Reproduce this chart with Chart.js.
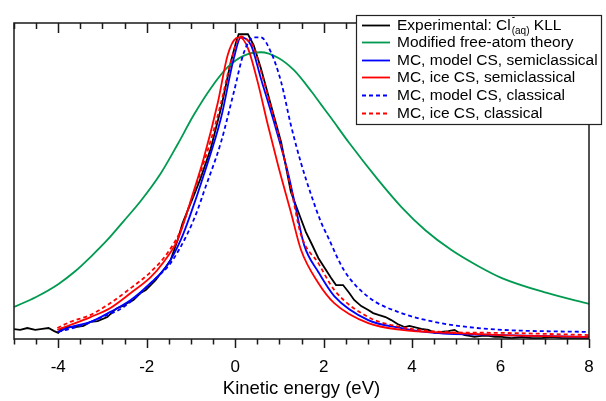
<!DOCTYPE html>
<html><head><meta charset="utf-8">
<script src="https://cdn.jsdelivr.net/npm/chart.js@4.4.1/dist/chart.umd.min.js"></script>
<style>html,body{margin:0;padding:0;background:#fff}#wrap{width:606px;height:401px}</style>
</head><body><div id="wrap"><canvas id="c" width="606" height="401"></canvas></div>
<script>
// Experimental Cl-(aq) KLL
const expX=[-5.02,-4.86,-4.70,-4.52,-4.36,-4.22,-4.09,-4.00,-3.91,-3.79,
 -3.61,-3.43,-3.27,-3.11,-2.89,-2.77,-2.66,-2.55,-2.43,-2.30,
 -2.14,-2.02,-1.91,-1.80,-1.68,-1.57,-1.46,-1.30,-1.19,-1.07,
 -0.94,-0.78,-0.55,-0.32,-0.10,0.02,0.08,0.29,0.42,0.58,
 0.81,1.04,1.26,1.49,1.60,1.72,1.88,2.01,2.17,2.28,
 2.44,2.58,2.69,2.85,3.01,3.12,3.24,3.40,3.53,3.67,
 3.83,3.94,4.05,4.21,4.37,4.51,4.66,4.82,4.96,5.07,
 5.19,5.30,5.41,5.57,5.73,5.87,6.03,6.25,6.48,6.71,
 6.93,7.16,7.39,7.61,7.84,8.00];
const expY=[.033,.030,.036,.030,.033,.036,.026,.020,.036,.039,
 .039,.043,.056,.059,.072,.089,.102,.108,.118,.128,
 .151,.161,.177,.193,.216,.236,.259,.325,.380,.423,
 .469,.528,.626,.757,.908,.974,1.000,1.000,.964,.889,
 .767,.646,.482,.393,.351,.315,.266,.236,.200,.177,
 .177,.151,.128,.108,.095,.085,.079,.072,.062,.049,
 .039,.043,.039,.033,.030,.020,.023,.026,.030,.020,
 .013,.010,.007,.010,.010,.007,.007,.003,.007,.003,
 .003,.007,.003,.003,.003,.003];
// Modified free-atom theory
const freeX=[-5.00,-4.50,-4.00,-3.61,-3.27,-2.89,-2.52,-2.14,-1.68,-1.30,-0.94,-0.55,-0.17,0.20,0.58,0.97,1.33,1.72,1.94,2.17,2.58,3.20,3.76,4.30,4.89,5.50,6.03,7.05,8.00];
const freeY=[.105,.138,.180,.223,.269,.325,.387,.452,.544,.639,.734,.823,.892,.930,.941,.923,.882,.813,.770,.725,.643,.528,.433,.357,.292,.239,.200,.151,.115];
// MC, model CS, semiclassical
const msX=[-4.02,-3.73,-3.27,-2.82,-2.36,-1.91,-1.53,-1.23,-1.00,-0.71,-0.32,-0.03,0.13,0.36,0.58,0.88,1.19,1.38,1.56,1.88,2.24,3.01,3.76,4.51,6.03,8.00];
const msY=[.023,.039,.056,.089,.128,.184,.243,.325,.413,.538,.725,.921,.990,.964,.856,.711,.548,.423,.308,.220,.141,.062,.036,.020,.013,.007];
// MC, ice CS, semiclassical
const isX=[-4.02,-3.73,-3.27,-2.82,-2.36,-1.91,-1.62,-1.30,-1.12,-1.00,-0.71,-0.39,-0.17,0.02,0.11,0.29,0.51,0.74,0.97,1.26,1.49,1.88,2.24,3.01,3.76,4.89,6.03,8.00];
const isY=[.030,.046,.072,.102,.151,.203,.252,.325,.400,.456,.593,.777,.931,.987,.990,.954,.843,.702,.570,.416,.292,.184,.118,.052,.030,.020,.013,.007];
// MC, model CS, classical
const mcX=[-4.00,-3.50,-3.05,-2.52,-1.84,-1.46,-1.07,-0.85,-0.71,-0.32,-0.03,0.20,0.42,0.58,0.81,1.04,1.26,1.49,1.72,1.94,2.10,2.46,3.01,3.76,4.51,5.28,6.03,8.00];
const mcY=[.023,.043,.069,.105,.193,.249,.348,.423,.482,.646,.810,.941,.990,.990,.941,.843,.702,.577,.472,.384,.334,.226,.138,.085,.056,.039,.030,.023];
// MC, ice CS, classical
const icX=[-4.02,-3.73,-3.27,-2.82,-2.36,-1.91,-1.53,-1.23,-1.07,-0.78,-0.55,-0.32,-0.10,0.13,0.29,0.42,0.58,0.81,1.04,1.26,1.49,1.88,2.24,3.01,3.76,4.73,6.03,8.00];
const icY=[.036,.056,.079,.118,.167,.220,.282,.357,.423,.548,.652,.774,.908,.993,.980,.957,.882,.761,.636,.495,.341,.249,.161,.072,.039,.023,.020,.013];

const majorTicks=[-4,-2,0,2,4,6,8];
const minorTicks=[-5,-4.5,-3.5,-3,-2.5,-1.5,-1,-0.5,0.5,1,1.5,2.5,3,3.5,4.5,5,5.5,6.5,7,7.5];
const labels=['Experimental: Cl⁻(aq) KLL','Modified free-atom theory','MC, model CS, semiclassical','MC, ice CS, semiclassical','MC, model CS, classical','MC, ice CS, classical'];

const FONT='"Liberation Sans", Arial, Helvetica, sans-serif';
const pts=(xs,ys)=>xs.map((x,i)=>({x,y:ys[i]}));
const mk=(i,xs,ys,color,dash)=>({label:labels[i],data:pts(xs,ys),borderColor:color,borderWidth:1.8,borderDash:dash||[],pointRadius:0,fill:false,cubicInterpolationMode:'monotone'});

const datasets=[
 mk(5,icX,icY,'#ff0000',[4,3]),
 mk(4,mcX,mcY,'#0000ff',[4,3]),
 mk(3,isX,isY,'#ff0000'),
 mk(2,msX,msY,'#0000ff'),
 mk(1,freeX,freeY,'#009a50'),
 Object.assign(mk(0,expX,expY,'#000000'),{cubicInterpolationMode:'default',tension:0})
];
const legendOrder=[5,4,3,2,1,0];

const framePlugin={id:'frame',afterDraw(chart){
 const {ctx,chartArea:a,scales:{x}}=chart;
 ctx.save();
 ctx.strokeStyle='#1a1a1a';ctx.lineWidth=1.5;ctx.lineCap='butt';
 ctx.beginPath();ctx.rect(a.left,a.top,a.right-a.left,a.bottom-a.top);ctx.stroke();
 ctx.beginPath();
 for(const v of majorTicks){const p=Math.round(x.getPixelForValue(v))+0.5;ctx.moveTo(p,a.bottom);ctx.lineTo(p,a.bottom+9);ctx.moveTo(p,a.top);ctx.lineTo(p,a.top+10);}
 for(const v of minorTicks){const p=Math.round(x.getPixelForValue(v))+0.5;ctx.moveTo(p,a.bottom);ctx.lineTo(p,a.bottom+5.5);ctx.moveTo(p,a.top);ctx.lineTo(p,a.top+6);}
 ctx.stroke();
 // legend box
 const bx=356,by=15,bw=245,bh=109;
 ctx.fillStyle='#fff';ctx.fillRect(bx,by,bw,bh);
 ctx.strokeStyle='#222';ctx.lineWidth=1.2;ctx.strokeRect(bx+0.5,by+0.5,bw,bh);
 ctx.textBaseline='middle';ctx.textAlign='left';
 legendOrder.forEach((di,row)=>{
  const ds=chart.data.datasets[di];
  const yy=Math.round(24.5+row*17.6)+0.5;
  ctx.strokeStyle=ds.borderColor;ctx.lineWidth=1.8;ctx.setLineDash(ds.borderDash);
  ctx.beginPath();ctx.moveTo(362,yy);ctx.lineTo(390,yy);ctx.stroke();ctx.setLineDash([]);
  ctx.fillStyle='#000';ctx.font='15.5px '+FONT;
  if(row===0){
   const t1='Experimental: Cl';ctx.fillText(t1,397,yy);
   let w=ctx.measureText(t1).width+397+1;
   ctx.font='10px '+FONT;ctx.fillText('-',w,yy-8);
   ctx.fillText('(aq)',w,yy+6);
   const w2=ctx.measureText('(aq)').width;
   ctx.font='15.5px '+FONT;ctx.fillText(' KLL',w+w2,yy);
  } else ctx.fillText(ds.label,397,yy);
 });
 ctx.restore();
}};

new Chart(document.getElementById('c'),{
 type:'line',
 data:{datasets},
 options:{
  responsive:false,animation:false,devicePixelRatio:1,
  layout:{padding:{left:14,right:17,top:23,bottom:0.9}},
  plugins:{legend:{display:false},tooltip:{enabled:false}},
  scales:{
   x:{type:'linear',min:-5,max:8,
    afterBuildTicks:(s)=>{s.ticks=majorTicks.map(v=>({value:v}));},
    grid:{display:false,drawTicks:true,tickLength:18},border:{display:false},
    ticks:{padding:0,color:'#000',font:{size:17,family:FONT},maxRotation:0,autoSkip:false},
    title:{display:true,text:'Kinetic energy (eV)',color:'#000',font:{size:18.5,family:FONT},padding:{top:0.5,bottom:0}}
   },
   y:{display:false,min:0,max:1.037}
  }
 },
 plugins:[framePlugin]
});
</script></body></html>
